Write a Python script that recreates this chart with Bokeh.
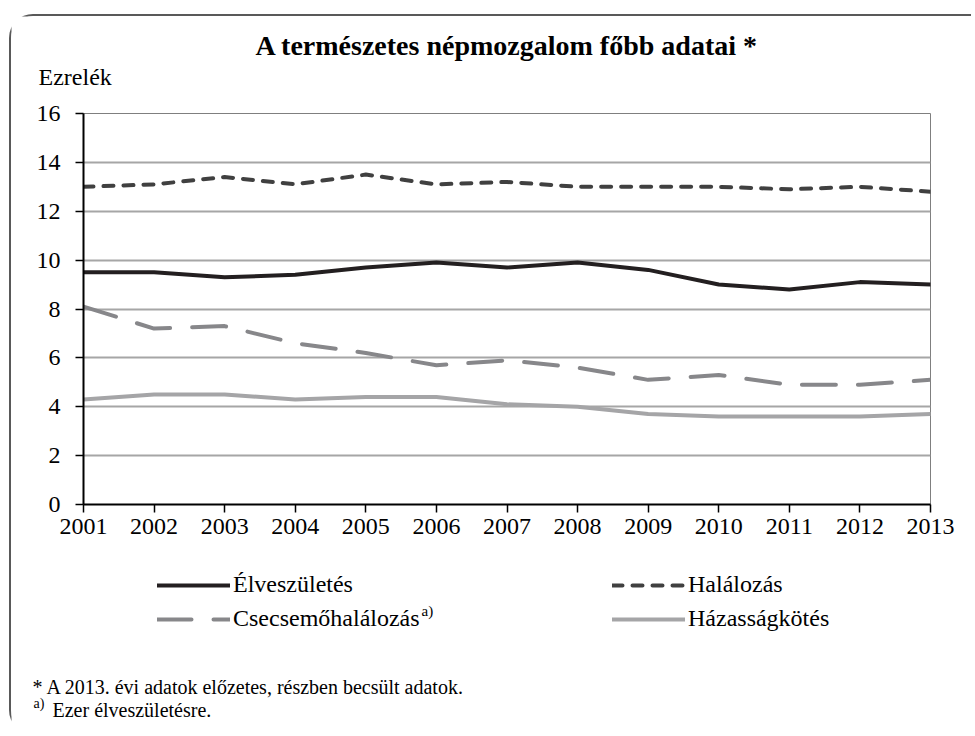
from bokeh.plotting import figure
from bokeh.layouts import column
from bokeh.models import Range1d, FixedTicker, Label, Legend, LegendItem
from bokeh.embed import file_html
from bokeh.resources import INLINE

# ---------------- data ----------------
years = [2001, 2002, 2003, 2004, 2005, 2006, 2007, 2008, 2009, 2010, 2011, 2012, 2013]
elveszuletes = [9.5, 9.5, 9.3, 9.4, 9.7, 9.9, 9.7, 9.9, 9.6, 9.0, 8.8, 9.1, 9.0]
halalozas = [13.0, 13.1, 13.4, 13.1, 13.5, 13.1, 13.2, 13.0, 13.0, 13.0, 12.9, 13.0, 12.8]
csecsemohalalozas = [8.1, 7.2, 7.3, 6.6, 6.2, 5.7, 5.9, 5.6, 5.1, 5.3, 4.9, 4.9, 5.1]
hazassagkotes = [4.3, 4.5, 4.5, 4.3, 4.4, 4.4, 4.1, 4.0, 3.7, 3.6, 3.6, 3.6, 3.7]
y_ticks = [0, 2, 4, 6, 8, 10, 12, 14, 16]

title_text = "A természetes népmozgalom főbb adatai *"
unit_text = "Ezrelék"
note1 = "* A 2013. évi adatok előzetes, részben becsült adatok."
note2 = "Ezer élveszületésre."
note_mark = "a)"
names = ["Élveszületés", "Halálozás", "Csecsemőhalálozás", "Házasságkötés"]

FONT = "Liberation Serif"

# series styles
st_elv = dict(line_color="#231f20", line_width=4, line_cap="round")
st_hal = dict(line_color="#404040", line_width=4, line_dash="10 10", line_cap="round")
st_cs = dict(line_color="#87878a", line_width=4, line_dash="34 22", line_cap="round")
st_haz = dict(line_color="#a5a5a7", line_width=4, line_cap="round")

# ---------------- layout (page pixels) ----------------
OX, OY = 11, 16          # content origin of the framed column
W = 960
TOP_H = 80               # page y 16..96
MAIN_H = 454             # page y 96..550
BOT_H = 184              # page y 550..734
MAIN_Y0 = OY + TOP_H
BOT_Y0 = MAIN_Y0 + MAIN_H
BOT_Y1 = BOT_Y0 + BOT_H


def no_align(f):
    if "frame_align" in f.properties():
        f.frame_align = False
    return f


def blank(y0, y1):
    # frame covers the whole canvas; ranges are page pixel coordinates
    f = figure(width=W, height=y1 - y0, output_backend="svg", toolbar_location=None,
               x_range=Range1d(OX, OX + W), y_range=Range1d(y1, y0), title=None,
               x_axis_type=None, y_axis_type=None, min_border=0)
    f.outline_line_color = None
    f.background_fill_color = "white"
    f.border_fill_color = "white"
    return no_align(f)


def txt(f, x, y, text, size, bold=False):
    f.add_layout(Label(x=x, y=y, text=text, text_font=FONT, text_font_size=size,
                       text_font_style="bold" if bold else "normal",
                       text_align="left", text_baseline="middle", text_color="black"))


# ---------------- top strip: title + unit ----------------
top = blank(OY, MAIN_Y0)
top.add_layout(Label(x=506.5, y=45, text=title_text, text_font=FONT,
                     text_font_size="28px", text_font_style="bold", text_align="center",
                     text_baseline="middle", text_color="black"))
txt(top, 38, 76, unit_text, "24px")

# ---------------- main chart ----------------
p = figure(width=W, height=MAIN_H, output_backend="svg", toolbar_location=None,
           x_range=Range1d(2001, 2013), y_range=Range1d(0, 16), title=None,
           min_border_left=83 - OX, min_border_right=OX + W - 930,
           min_border_top=113 - MAIN_Y0, min_border_bottom=BOT_Y0 - 504)
no_align(p)
p.background_fill_color = "white"
p.border_fill_color = "white"
p.outline_line_color = "#7f7f7f"
p.outline_line_width = 1

p.xaxis.ticker = FixedTicker(ticks=years)
p.yaxis.ticker = FixedTicker(ticks=y_ticks)
for ax in (p.xaxis[0], p.yaxis[0]):
    ax.axis_line_color = "black"
    ax.axis_line_width = 2
    ax.major_tick_line_color = "black"
    ax.major_tick_line_width = 1.5
    ax.major_tick_in = 0
    ax.major_tick_out = 8
    ax.minor_tick_line_color = None
    ax.major_label_text_font = FONT
    ax.major_label_text_font_size = "24px"
    ax.major_label_text_color = "black"
p.yaxis.major_label_standoff = 15
p.xaxis.major_label_standoff = 6

p.xgrid.grid_line_color = None
p.ygrid.grid_line_color = "#a6a6a6"
p.ygrid.grid_line_width = 2

p.line(years, elveszuletes, **st_elv)
p.line(years, halalozas, **st_hal)
p.line(years, csecsemohalalozas, **st_cs)
p.line(years, hazassagkotes, **st_haz)

# ---------------- bottom strip: legend + notes ----------------
bot = blank(BOT_Y0, BOT_Y1)

# legend proxies (the series drawn far outside this strip's visible range)
k1 = bot.line(years, elveszuletes, **st_elv)
k2 = bot.line(years, halalozas, **st_hal)
k3 = bot.line(years, csecsemohalalozas, **st_cs)
k4 = bot.line(years, hazassagkotes, **st_haz)

ROW1, ROW2, LH = 586, 619, 26
SP = ROW2 - ROW1 - LH
GW, STAND = 73, 3
common = dict(border_line_color=None, background_fill_alpha=0, padding=0, margin=0,
              spacing=SP, glyph_width=GW, glyph_height=LH, label_height=LH,
              label_standoff=STAND, label_text_font=FONT, label_text_font_size="24px",
              label_text_color="black", orientation="vertical")
leg_y = BOT_Y1 - (ROW2 + LH / 2)
COL1, COL2 = 157, 612
bot.add_layout(Legend(items=[LegendItem(label=names[0], renderers=[k1]),
                             LegendItem(label=names[2], renderers=[k3])],
                      location=(COL1 - OX, leg_y), **common))
bot.add_layout(Legend(items=[LegendItem(label=names[1], renderers=[k2]),
                             LegendItem(label=names[3], renderers=[k4])],
                      location=(COL2 - OX, leg_y), **common))

txt(bot, COL1 + GW + STAND + 188, ROW2 - 9, note_mark, "15px")
txt(bot, 32, 686, note1, "20px")
txt(bot, 33, 703, note_mark, "14px")
txt(bot, 52, 709, note2, "20px")

layout = column(top, p, bot, spacing=0)
layout.styles = {"margin-left": "9px", "margin-top": "14px",
                 "border-top": "2px solid #595959", "border-left": "2px solid #595959",
                 "border-top-left-radius": "24px", "border-bottom-left-radius": "24px"}

open("out.html", "w").write(file_html(layout, INLINE))
